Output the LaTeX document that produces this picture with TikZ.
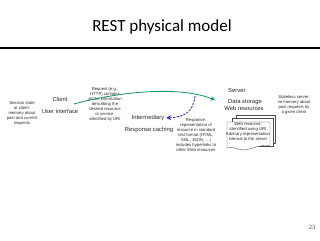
\documentclass[tikz,border=0pt]{standalone}
\usepackage{fontspec}
\setmainfont{Liberation Sans}
\newfontfamily\titlefont{Carlito}
\newfontfamily\pagefont{Liberation Serif}
\usetikzlibrary{arrows.meta}
\definecolor{reqgreen}{RGB}{20,150,105}
\definecolor{respblue}{RGB}{40,40,200}

\begin{document}
\begin{tikzpicture}[x=0.03cm,y=-0.03cm,
    lbl/.style={font=\fontsize{5}{5.6}\selectfont,text=black!85,inner sep=0pt},
    note/.style={font=\fontsize{3.6}{4.3}\selectfont,align=center,text=black!85,inner sep=0pt},
    sheet/.style={draw=black!70,line width=0.3pt,fill=white}]
  \useasboundingbox (0,0) rectangle (320,240);
  % title and rule
  \node (title) at (162,27) {\titlefont\fontsize{14.5}{16}\selectfont REST physical model};
  \draw[line width=2pt] (0,48) -- (320,48);
  % client side
  \node[note] (session) at (22,113) {Session state\\at client:\\memory about\\past and current\\requests};
  \node[lbl] (client) at (60,99) {Client};
  \node[lbl] (ui) at (60,111) {User interface};
  \node[note] (request) at (105,104.5) {Request (e.g.,\\HTTP) contains\\all the information\\describing the\\desired resource\\or service,\\identified by URI};
  % intermediary
  \node[lbl] (inter) at (148,118) {Intermediary};
  \node[lbl] (caching) at (149,130) {Response caching};
  \node[note] (response) at (196,135) {Response:\\representation of\\resource in standard\\text format (HTML,\\XML, JSON, \dots)\\includes hyperlinks to\\other Web resources};
  % server side
  \node[lbl,anchor=west] (server) at (228,90) {Server};
  \node[lbl] (storage) at (245,102) {Data storage};
  \node[lbl] (webres) at (244,108) {Web resources};
  \node[note] (stateless) at (294,105) {Stateless server:\\no memory about\\past requests by\\a given client};
  % stack of resource sheets
  \draw[sheet] (236,115) rectangle (275,143);
  \draw[sheet] (232,118) rectangle (273,146);
  \draw[sheet] (227,122) -- (270,122) -- (270,146)
    .. controls (258,143) and (248,153) .. (238,149)
    .. controls (233,147) and (230,147) .. (227,148) -- cycle;
  \node[note] (resource) at (248,131.5) {Web resource:\\identified using URI\\Arbitrary representation\\internal to the server};
  % request and response arrows
  \coordinate (reqstart) at (74,104);
  \coordinate (reqend) at (215,100);
  \coordinate (respstart) at (195,96);
  \draw[reqgreen,line width=0.7pt,-{Stealth[length=4pt,width=4pt]}]
    (reqstart) .. controls (110,94) and (175,84) .. (reqend);
  \draw[respblue,line width=0.7pt,dashed,dash pattern=on 2pt off 1pt,-{Stealth[length=4pt,width=4pt]}]
    (respstart) .. controls (193,112) and (185,117) .. ([xshift=1.5pt]inter.east);
  % page number
  \node[text=black!75] (page) at (312,227) {\pagefont\fontsize{5.5}{6}\selectfont 23};
\end{tikzpicture}
\end{document}
